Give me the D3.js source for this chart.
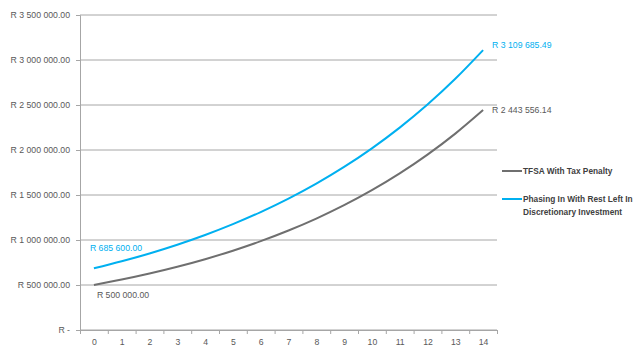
<!DOCTYPE html>
<html>
<head>
<meta charset="utf-8">
<script src="https://cdn.jsdelivr.net/npm/d3@7"></script>
<style>
  body { margin: 0; background: #fff; }
  text { font-family: "Liberation Sans", Arial, sans-serif; }
</style>
</head>
<body>
<div id="chart"></div>
<script>
var years = [0, 1, 2, 3, 4, 5, 6, 7, 8, 9, 10, 11, 12, 13, 14];
var tfsa = [500000, 560000, 627200, 702464, 786760, 881171, 986911, 1105341,
    1237982, 1386539, 1552924, 1739275, 1947988, 2181747, 2443556.14];
var phasing = [685600, 763790, 850890, 947920, 1056020, 1176450, 1310610, 1460070,
    1626580, 1812070, 2018720, 2248940, 2505400, 2791120, 3109685.49];
var yTicks = [0, 500000, 1000000, 1500000, 2000000, 2500000, 3000000, 3500000];
var seriesNames = ["TFSA With Tax Penalty", "Phasing In With Rest Left In Discretionary Investment"];
var colors = ["#6f6f6f", "#00b0f0"];

var width = 640;
var height = 356;
var plot = { left: 80, right: 497, top: 15, bottom: 330 };

var svg = d3.select("#chart")
    .append("svg")
    .attr("width", width)
    .attr("height", height);

var x = d3.scaleLinear()
    .domain([-0.5, 14.5])
    .range([plot.left, plot.right]);

var y = d3.scaleLinear()
    .domain([0, 3500000])
    .range([plot.bottom, plot.top]);

// money format like "R 3 500 000.00"
function rand(v) {
    if (v === 0) return "R -";
    var s = v.toFixed(2).split(".");
    return "R " + s[0].replace(/\B(?=(\d{3})+(?!\d))/g, " ") + "." + s[1];
}

// gridlines
svg.append("g")
    .selectAll("line")
    .data(yTicks)
    .enter()
    .append("line")
    .attr("x1", plot.left)
    .attr("x2", plot.right)
    .attr("y1", d => y(d))
    .attr("y2", d => y(d))
    .attr("stroke", "#a6a6a6")
    .attr("stroke-width", 1);

// y axis
var yAxis = svg.append("g")
    .attr("transform", `translate(${plot.left}, 0)`)
    .call(d3.axisLeft(y).tickValues(yTicks).tickSize(4).tickPadding(6).tickFormat(rand));
yAxis.select(".domain").attr("stroke", "#a6a6a6");
yAxis.selectAll(".tick line").attr("stroke", "#a6a6a6");
yAxis.selectAll("text").attr("fill", "#595959").style("font-size", "8.7px");

// x axis ticks at category boundaries
var bounds = years.concat([15]).map(d => d - 0.5);
var xAxis = svg.append("g")
    .attr("transform", `translate(0, ${plot.bottom})`)
    .call(d3.axisBottom(x).tickValues(bounds).tickSize(4).tickFormat(""));
xAxis.select(".domain").attr("stroke", "#a6a6a6");
xAxis.selectAll(".tick line").attr("stroke", "#a6a6a6");

var xLabels = svg.append("g")
    .attr("transform", `translate(0, ${plot.bottom})`)
    .call(d3.axisBottom(x).tickValues(years).tickSize(0).tickPadding(9));
xLabels.select(".domain").remove();
xLabels.selectAll("text").attr("fill", "#595959").style("font-size", "8.7px");

// lines
var line = d3.line()
    .x((d, i) => x(years[i]))
    .y(d => y(d))
    .curve(d3.curveMonotoneX);

[tfsa, phasing].forEach(function (s, k) {
    svg.append("path")
        .datum(s)
        .attr("fill", "none")
        .attr("stroke", colors[k])
        .attr("stroke-width", 2)
        .attr("d", line);
});

// data labels
var labels = [
    { v: phasing[0], i: 0, dx: -4, dy: -20, c: colors[1] },
    { v: tfsa[0], i: 0, dx: 3, dy: 10, c: "#595959" },
    { v: phasing[14], i: 14, dx: 9, dy: -5, c: colors[1] },
    { v: tfsa[14], i: 14, dx: 9, dy: 0, c: "#595959" }
];
svg.append("g")
    .selectAll("text")
    .data(labels)
    .enter()
    .append("text")
    .attr("x", d => x(d.i) + d.dx)
    .attr("y", d => y(d.v) + d.dy)
    .attr("dy", "0.35em")
    .attr("fill", d => d.c)
    .style("font-size", "8.7px")
    .text(d => rand(d.v));

// legend
var legend = svg.append("g").attr("transform", "translate(502, 0)");
var legendRows = [[seriesNames[0]], ["Phasing In With Rest Left In", "Discretionary Investment"]];
var legendY = [171, 199];
legendRows.forEach(function (rows, k) {
    legend.append("line")
        .attr("x1", 0)
        .attr("x2", 20)
        .attr("y1", legendY[k])
        .attr("y2", legendY[k])
        .attr("stroke", colors[k])
        .attr("stroke-width", 2);
    rows.forEach(function (t, j) {
        legend.append("text")
            .attr("x", 21)
            .attr("y", legendY[k] + j * 13)
            .attr("dy", "0.35em")
            .attr("fill", "#404040")
            .style("font-size", "8.3px")
            .style("font-weight", "bold")
            .text(t);
    });
});
</script>
</body>
</html>
